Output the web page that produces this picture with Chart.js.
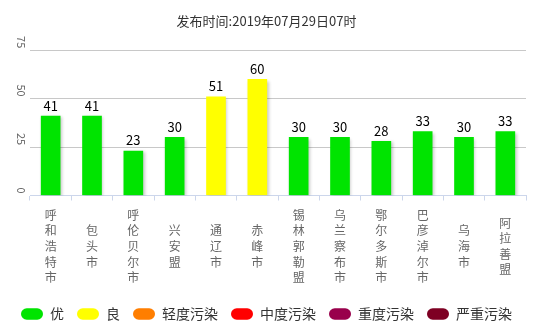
<!DOCTYPE html>
<html><head><meta charset="utf-8">
<script src="https://cdn.jsdelivr.net/npm/chart.js@4"></script>
<style>html,body{margin:0;padding:0;background:#fff}</style>
</head><body>
<canvas id="c" width="544" height="331" style="width:544px;height:331px;display:block"></canvas>
<script>
const titleText = '发布时间:2019年07月29日07时';
const cities = ['呼和浩特市','包头市','呼伦贝尔市','兴安盟','通辽市','赤峰市','锡林郭勒盟','乌兰察布市','鄂尔多斯市','巴彦淖尔市','乌海市','阿拉善盟'];
const aqi = [41,41,23,30,51,60,30,30,28,33,30,33];
const yTicks = [0,25,50,75];
const levelNames = ['优','良','轻度污染','中度污染','重度污染','严重污染'];
const levelColors = ['#00e400','#ffff00','#ff7e00','#ff0000','#99004c','#7e0023'];
const levelMax = [50,100,150,200,300,500];

const FONT = "'Noto Sans CJK SC','Microsoft YaHei','DejaVu Sans',sans-serif";
function colorFor(v){ for(let i=0;i<levelMax.length;i++){ if(v<=levelMax[i]) return levelColors[i]; } return levelColors[levelColors.length-1]; }

const shadowPlugin = {
  id:'shadow',
  beforeDatasetsDraw(chart){ const c=chart.ctx; c.save(); c.shadowColor='rgba(0,0,0,0.22)'; c.shadowOffsetX=1.5; c.shadowOffsetY=1.5; c.shadowBlur=3; },
  afterDatasetsDraw(chart){ chart.ctx.restore(); }
};

const textPlugin = {
  id:'texts',
  afterDraw(chart){
    const c = chart.ctx, xs = chart.scales.x, ys = chart.scales.y;
    c.save();
    // y tick labels rotated
    c.fillStyle='#666'; c.font='11px '+FONT; c.textAlign='right'; c.textBaseline='middle';
    yTicks.forEach(t=>{
      const py = ys.getPixelForValue(t);
      c.save(); c.translate(21, py-2); c.rotate(Math.PI/2); c.fillText(String(t),0,0); c.restore();
    });
    // x category labels, vertical, centered
    c.font='12px '+FONT; c.textAlign='center'; c.textBaseline='middle'; c.fillStyle='#666';
    const lh = 15.6, cy = 246.5;
    cities.forEach((name,i)=>{
      const px = xs.getPixelForValue(i);
      const chars = Array.from(name);
      const y0 = cy - (chars.length-1)*lh/2;
      chars.forEach((ch,k)=>c.fillText(ch, px, y0+k*lh));
    });
    // value labels
    c.font='13px '+FONT; c.fillStyle='#000'; c.textBaseline='middle';
    const meta = chart.getDatasetMeta(0);
    meta.data.forEach((el,i)=>{ c.fillText(String(aqi[i]), el.x, el.y-10.5); });
    c.restore();
  }
};

new Chart(document.getElementById('c'), {
  type:'bar',
  data:{ labels:cities, datasets:[{ data:aqi, backgroundColor:aqi.map(colorFor), borderWidth:0, barThickness:19 }] },
  options:{
    responsive:false, devicePixelRatio:1, animation:false,
    layout:{ padding:{ left:7, right:18, top:0, bottom:0 } },
    plugins:{
      title:{ display:true, text:titleText, color:'#333', font:{ size:13, family:FONT, weight:'normal' }, padding:{ top:13.5, bottom:21.2 } },
      legend:{ position:'bottom', onClick:null,
        labels:{ boxWidth:22, boxHeight:11.5, useBorderRadius:true, borderRadius:5.75, padding:13, color:'#333', font:{ size:14, family:FONT },
          generateLabels(){ return levelNames.map((n,i)=>({ text:n, fillStyle:levelColors[i], strokeStyle:levelColors[i], lineWidth:0, hidden:false, borderRadius:5.75, fontColor:'#333' })); } } },
      tooltip:{ enabled:false }
    },
    scales:{
      x:{ offset:true, grid:{ display:true, offset:true, drawOnChartArea:false, drawTicks:true, tickLength:5, color:'#ccd6eb' },
          border:{ display:true, color:'#ccd6eb' }, ticks:{ display:false }, afterFit(s){ s.height = 98.5; } },
      y:{ min:0, max:75, ticks:{ display:false, stepSize:25 }, border:{ display:false },
          grid:{ drawTicks:false, color:(ctx)=> ctx.tick && ctx.tick.value===0 ? 'rgba(0,0,0,0)' : '#c8c8c8' },
          afterFit(s){ s.width = 23; } }
    }
  },
  plugins:[shadowPlugin, textPlugin]
});
</script>
</body></html>
